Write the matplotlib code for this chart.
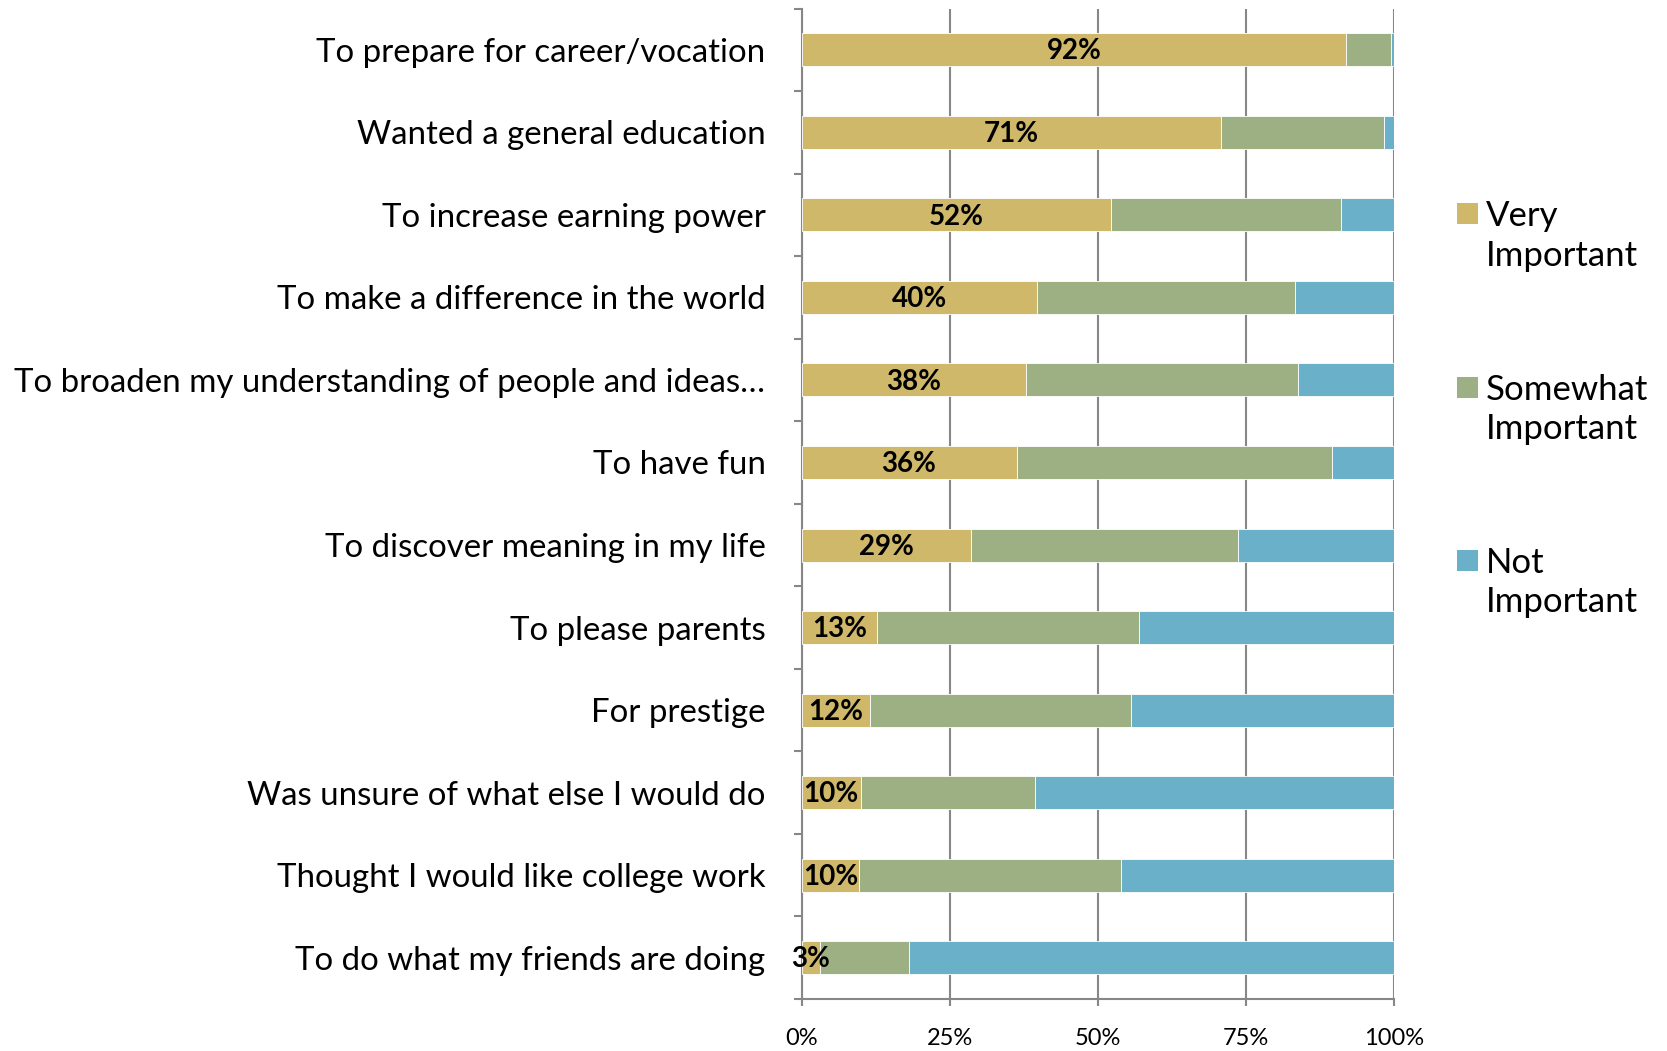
import matplotlib
matplotlib.use("Agg")
import matplotlib.pyplot as plt
from matplotlib.patches import Rectangle
import numpy as np

categories = [
    "To prepare for career/vocation",
    "Wanted a general education",
    "To increase earning power",
    "To make a difference in the world",
    "To broaden my understanding of people and ideas\u2026",
    "To have fun",
    "To discover meaning in my life",
    "To please parents",
    "For prestige",
    "Was unsure of what else I would do",
    "Thought I would like college work",
    "To do what my friends are doing",
]
very = [92.0, 70.8, 52.2, 39.7, 37.9, 36.3, 28.6, 12.8, 11.5, 10.0, 9.7, 3.1]
somewhat = [7.6, 27.5, 38.9, 43.6, 46.0, 53.3, 45.1, 44.1, 44.1, 29.5, 44.2, 15.0]
not_imp = [0.4, 1.7, 8.9, 16.7, 16.1, 10.4, 26.3, 43.1, 44.4, 60.5, 46.1, 81.9]
series_names = ["Very\nImportant", "Somewhat\nImportant", "Not\nImportant"]
x_ticks = [0, 25, 50, 75, 100]
x_ticklabels = ["0%", "25%", "50%", "75%", "100%"]

colors = ["#CFB869", "#9DB083", "#6BB0C9"]
gray = "#878787"

plt.rcParams['font.family'] = ['Lato', 'DejaVu Sans']

W, H = 1667, 1051
fig = plt.figure(figsize=(W / 100, H / 100), dpi=100)
ax = fig.add_axes([801.6 / W, 1 - 999 / H, (1393.7 - 801.6) / W, (999 - 8.5) / H])

y = np.arange(len(categories))
very_a = np.array(very)
some_a = np.array(somewhat)
not_a = np.array(not_imp)
bh = 0.4
ax.barh(y, very_a, height=bh, color=colors[0], edgecolor="white", linewidth=0.6, zorder=3)
ax.barh(y, some_a, left=very_a, height=bh, color=colors[1], edgecolor="white", linewidth=0.6, zorder=3)
ax.barh(y, not_a, left=very_a + some_a, height=bh, color=colors[2], edgecolor="white", linewidth=0.6, zorder=3)

for yi, v in zip(y, very):
    ax.text(v / 2, yi + 0.02, f"{round(v)}%", ha="center", va="center",
            fontsize=20, fontweight="bold", color="black", zorder=5)

ax.set_xlim(0, 100)
ax.set_ylim(len(categories) - 0.5, -0.5)

ax.set_xticks(x_ticks)
ax.set_xticklabels(x_ticklabels, fontsize=17)
ax.set_yticks(y)
ax.set_yticklabels(categories, fontsize=23.8)
ax.set_yticks(np.arange(-0.5, len(categories) + 0.5, 1), minor=True)

ax.tick_params(axis="y", which="major", length=0, pad=26)
ax.tick_params(axis="y", which="minor", length=6, width=1.5, color=gray, direction="out")
ax.tick_params(axis="x", which="major", length=5, width=1.5, color=gray, direction="out", pad=16)

for s in ["top", "right"]:
    ax.spines[s].set_visible(False)
for s in ["left", "bottom"]:
    ax.spines[s].set_color(gray)
    ax.spines[s].set_linewidth(1.5)

ax.grid(axis="x", color=gray, linewidth=1.5, zorder=0)
ax.set_axisbelow(True)

# legend (manual, to match layout)
leg_y = [213.7, 387.0, 560.0]
for c, name, ly in zip(colors, series_names, leg_y):
    sq = 21
    fig.patches.append(Rectangle((1456.5 / W, 1 - (ly + sq / 2) / H), sq / W, sq / H,
                                 transform=fig.transFigure, facecolor=c, edgecolor="none"))
    fig.text(1486 / W, 1 - (ly + 22.5) / H, name, ha="left", va="center",
             fontsize=25, linespacing=1.3)

fig.savefig("out.png", dpi=100)
